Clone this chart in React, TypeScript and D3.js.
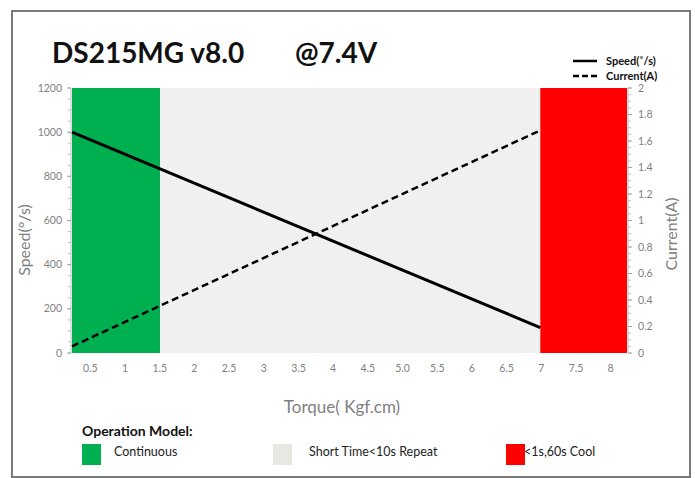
import React from 'react';
import * as d3 from 'd3';

const W = 695;
const H = 478;

// data
const xTickValues = [0.5, 1, 1.5, 2, 2.5, 3, 3.5, 4, 4.5, 5, 5.5, 6, 6.5, 7, 7.5, 8];
const xTickLabels = ['0.5', '1', '1.5', '2', '2.5', '3', '3.5', '4', '4.5', '5.0', '5.5', '6', '6.5', '7', '7.5', '8'];
const speedTorque = [0.25, 7];
const speedValues = [1000, 115];
const currentTorque = [0.25, 7];
const currentValues = [0.05, 1.68];
const zoneNames = ['Continuous', 'Short Time<10s Repeat', '<1s,60s Cool'];
const zoneFrom = [0.25, 1.52, 7];
const zoneTo = [1.52, 7, 8.25];
const zoneColors = ['#00b050', '#f0f0f0', '#ff0000'];
const legendColors = ['#00b050', '#e8e7e2', '#ff0000'];

const margin = { top: 88, right: 68, bottom: 125, left: 72 };
const FONT = 'Lato, "Open Sans", sans-serif';

export default function App() {
  const x = d3.scaleLinear().domain([0.25, 8.25]).range([margin.left, W - margin.right]);
  const yL = d3.scaleLinear().domain([0, 1200]).range([H - margin.bottom, margin.top]);
  const yR = d3.scaleLinear().domain([0, 2]).range([H - margin.bottom, margin.top]);
  const bottom = H - margin.bottom;
  const right = W - margin.right;

  const speedLine = d3
    .line<number>()
    .x((_, i) => x(speedTorque[i]))
    .y(d => yL(d));
  const currentLine = d3
    .line<number>()
    .x((_, i) => x(currentTorque[i]))
    .y(d => yR(d));

  const leftMajor = d3.range(0, 1201, 200);
  const leftMinor = d3.range(0, 1201, 50);
  const rightMajor = d3.range(0, 11).map(i => i * 0.2);
  const rightMinor = d3.range(0, 41).map(i => i * 0.05);

  const legendX = [82, 273, 506];
  const legendTextX = [114, 309, 524];

  return (
    <svg
      width={W}
      height={H}
      style={{ position: 'absolute', left: 0, top: 0, fontFamily: FONT }}
    >
      <rect x={0} y={0} width={W} height={H} fill="#fff" />
      {/* frame */}
      <rect x={12} y={11} width={678} height={466} fill="none" stroke="#7a7a7a" strokeWidth={2} />

      {/* title */}
      <text x={52} y={63} fontSize={28} fontWeight="bold" fill="#111">DS215MG v8.0</text>
      <text x={295} y={63} fontSize={28} fontWeight="bold" fill="#111">@7.4V</text>

      {/* top-right legend */}
      <line x1={573} x2={597} y1={61} y2={61} stroke="#000" strokeWidth={2.5} />
      <text x={606} y={65} fontSize={11} fontWeight="bold" fill="#111">Speed(˚/s)</text>
      <line x1={573} x2={597} y1={76} y2={76} stroke="#000" strokeWidth={2.5} strokeDasharray="6 3" />
      <text x={606} y={80} fontSize={11} fontWeight="bold" fill="#111">Current(A)</text>

      {/* zones */}
      {zoneNames.map((n, i) => (
        <rect
          key={n}
          x={x(zoneFrom[i])}
          y={margin.top}
          width={x(zoneTo[i]) - x(zoneFrom[i])}
          height={bottom - margin.top}
          fill={zoneColors[i]}
        />
      ))}

      {/* left axis */}
      <line x1={margin.left - 1} x2={margin.left - 1} y1={margin.top} y2={bottom} stroke="#bfbfbf" />
      {leftMinor.map(d => (
        <line key={d} x1={margin.left - 4} x2={margin.left - 1} y1={yL(d)} y2={yL(d)} stroke="#bfbfbf" />
      ))}
      {leftMajor.map(d => (
        <g key={d}>
          <line x1={margin.left - 5} x2={margin.left - 1} y1={yL(d)} y2={yL(d)} stroke="#a6a6a6" />
          <text x={margin.left - 10} y={yL(d) + 3.5} fontSize={10.5} fill="#7f7f7f" textAnchor="end">{d}</text>
        </g>
      ))}
      <text
        transform={`translate(30,240) rotate(-90)`}
        fontSize={16}
        fill="#7f7f7f"
        textAnchor="middle"
      >
        Speed(°/s)
      </text>

      {/* right axis */}
      <line x1={right + 1} x2={right + 1} y1={margin.top} y2={bottom} stroke="#bfbfbf" />
      {rightMinor.map((d, i) => (
        <line key={i} x1={right + 1} x2={right + 4} y1={yR(d)} y2={yR(d)} stroke="#bfbfbf" />
      ))}
      {rightMajor.map((d, i) => (
        <g key={i}>
          <line x1={right + 1} x2={right + 5} y1={yR(d)} y2={yR(d)} stroke="#a6a6a6" />
          <text x={right + 11} y={yR(d) + 3.5} fontSize={10.5} fill="#7f7f7f">{d3.format('~g')(+d.toFixed(1))}</text>
        </g>
      ))}
      <text
        transform={`translate(677,234) rotate(-90)`}
        fontSize={16}
        fill="#7f7f7f"
        textAnchor="middle"
      >
        Current(A)
      </text>

      {/* x axis */}
      {xTickValues.map((d, i) => (
        <text key={d} x={x(d) + 1} y={bottom + 19} fontSize={10.5} fill="#7f7f7f" textAnchor="middle">
          {xTickLabels[i]}
        </text>
      ))}
      <text x={342} y={413} fontSize={17} fill="#7f7f7f" textAnchor="middle">Torque( Kgf.cm)</text>

      {/* lines */}
      <path d={speedLine(speedValues) || ''} fill="none" stroke="#000" strokeWidth={3} />
      <path d={currentLine(currentValues) || ''} fill="none" stroke="#000" strokeWidth={2.5} strokeDasharray="7 4" />

      {/* bottom legend */}
      <text x={82} y={436} fontSize={14} fontWeight="bold" fill="#111">Operation Model:</text>
      {zoneNames.map((n, i) => (
        <g key={n}>
          <rect x={legendX[i]} y={444} width={19} height={21} fill={legendColors[i]} />
          <text x={legendTextX[i]} y={456} fontSize={12.5} fill="#222">{n}</text>
        </g>
      ))}
    </svg>
  );
}
